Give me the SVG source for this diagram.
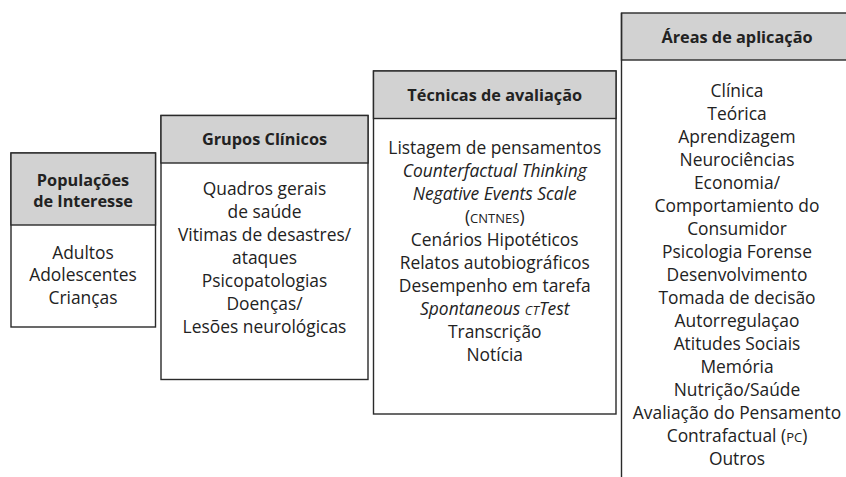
<svg xmlns="http://www.w3.org/2000/svg" width="846" height="477" viewBox="0 0 846 477">
<style>
.box{fill:#fff;stroke:#2a2a2a;stroke-width:1.4}
.hdr{fill:#d2d2d2;stroke:#2a2a2a;stroke-width:1.4}
.ln{stroke:#2a2a2a;stroke-width:1.4;fill:none}
text{font-family:"Open Sans","Noto Sans","Liberation Sans",sans-serif;fill:#222;text-anchor:middle}
.h{font-weight:bold;font-size:16.3px}
.b{font-size:17.4px}
.i{font-style:italic}
.sc{font-size:13px}
</style>
<rect width="846" height="477" fill="#fff"/>
<g id="connectors"/>
<g id="populacoes">
<rect class="box" x="11" y="153" width="144.5" height="174"/>
<rect class="hdr" x="11" y="153" width="144.5" height="72"/>
<text class="h" x="83" y="185.5">Populações</text>
<text class="h" x="83" y="207">de Interesse</text>
<text class="b" x="83" y="258.5">Adultos</text>
<text class="b" x="83" y="281">Adolescentes</text>
<text class="b" x="83" y="303.5">Crianças</text>
</g>
<g id="grupos">
<rect class="box" x="161" y="115.5" width="207" height="264"/>
<rect class="hdr" x="161" y="115.5" width="207" height="47.5"/>
<text class="h" x="264.5" y="145">Grupos Clínicos</text>
<text class="b" x="264.5" y="194.5">Quadros gerais</text>
<text class="b" x="264.5" y="217.5">de saúde</text>
<text class="b" x="264.5" y="240.5">Vitimas de desastres/</text>
<text class="b" x="264.5" y="263.5">ataques</text>
<text class="b" x="264.5" y="286.5">Psicopatologias</text>
<text class="b" x="264.5" y="309.5">Doenças/</text>
<text class="b" x="264.5" y="332.5">Lesões neurológicas</text>
</g>
<g id="tecnicas">
<rect class="box" x="373.5" y="71" width="242.5" height="343"/>
<rect class="hdr" x="373.5" y="71" width="242.5" height="47.5"/>
<text class="h" x="494.75" y="101">Técnicas de avaliação</text>
<text class="b" x="494.75" y="153.5">Listagem de pensamentos</text>
<text class="b i" x="494.75" y="176.5">Counterfactual Thinking</text>
<text class="b i" x="494.75" y="199.5">Negative Events Scale</text>
<text class="b" x="494.75" y="222.5">(<tspan class="sc">CNTNES</tspan>)</text>
<text class="b" x="494.75" y="245.5">Cenários Hipotéticos</text>
<text class="b" x="494.75" y="268.5">Relatos autobiográficos</text>
<text class="b" x="494.75" y="291.5">Desempenho em tarefa</text>
<text class="b i" x="494.75" y="314.5">Spontaneous <tspan class="sc">CT</tspan>Test</text>
<text class="b" x="494.75" y="337.5">Transcrição</text>
<text class="b" x="494.75" y="360.5">Notícia</text>
</g>
<g id="areas">
<rect class="hdr" x="621.5" y="13" width="240" height="47"/>
<path class="ln" d="M621.5 13 V477"/>
<text class="h" x="737" y="43">Áreas de aplicação</text>
<text class="b" x="737" y="96.5">Clínica</text>
<text class="b" x="737" y="119.5">Teórica</text>
<text class="b" x="737" y="142.5">Aprendizagem</text>
<text class="b" x="737" y="165.5">Neurociências</text>
<text class="b" x="737" y="188.5">Economia/</text>
<text class="b" x="737" y="211.5">Comportamiento do</text>
<text class="b" x="737" y="234.5">Consumidor</text>
<text class="b" x="737" y="257.5">Psicologia Forense</text>
<text class="b" x="737" y="280.5">Desenvolvimento</text>
<text class="b" x="737" y="303.5">Tomada de decisão</text>
<text class="b" x="737" y="326.5">Autorregulaçao</text>
<text class="b" x="737" y="349.5">Atitudes Sociais</text>
<text class="b" x="737" y="372.5">Memória</text>
<text class="b" x="737" y="395.5">Nutrição/Saúde</text>
<text class="b" x="737" y="418.5">Avaliação do Pensamento</text>
<text class="b" x="737" y="441.5">Contrafactual (<tspan class="sc">PC</tspan>)</text>
<text class="b" x="737" y="464.5">Outros</text>
</g>
</svg>
